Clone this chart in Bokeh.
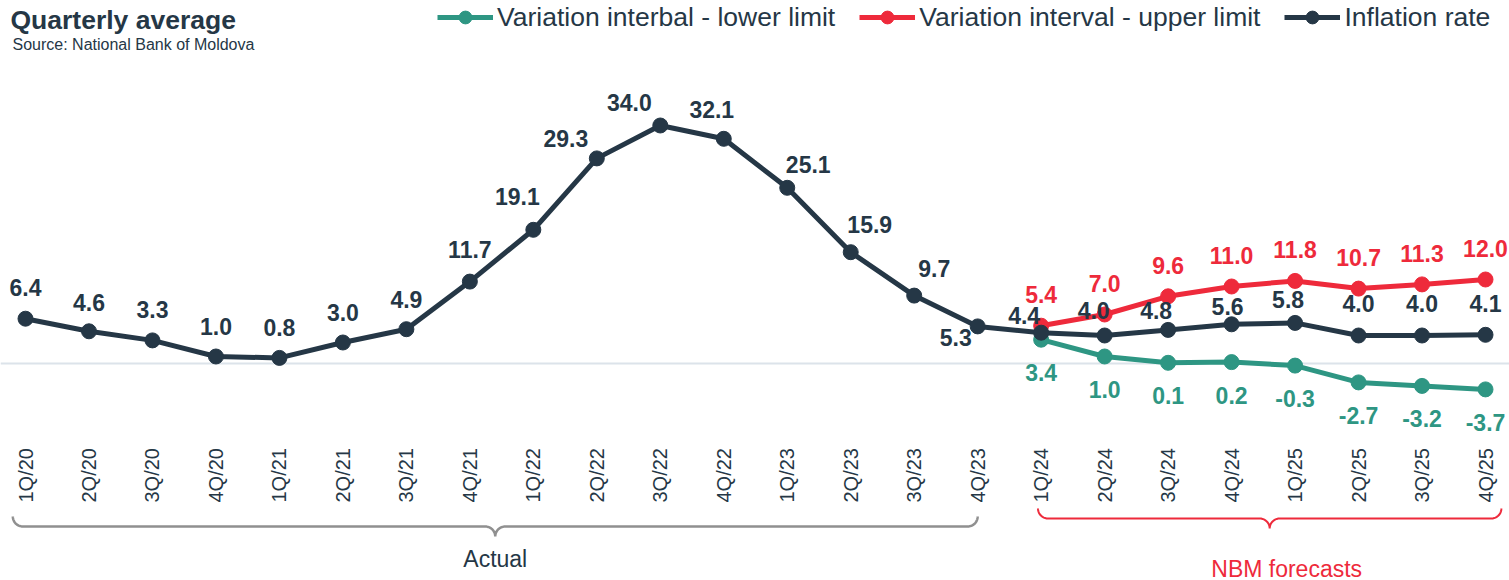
import numpy as np
from bokeh.plotting import figure
from bokeh.models import ColumnDataSource, Range1d, Span, Label, Legend, LegendItem
from bokeh.core.properties import value
from bokeh.embed import file_html
from bokeh.resources import INLINE

# ---------------- data ----------------
quarters = ["1Q/20", "2Q/20", "3Q/20", "4Q/20", "1Q/21", "2Q/21", "3Q/21", "4Q/21",
            "1Q/22", "2Q/22", "3Q/22", "4Q/22", "1Q/23", "2Q/23", "3Q/23", "4Q/23",
            "1Q/24", "2Q/24", "3Q/24", "4Q/24", "1Q/25", "2Q/25", "3Q/25", "4Q/25"]
inflation = [6.4, 4.6, 3.3, 1.0, 0.8, 3.0, 4.9, 11.7, 19.1, 29.3, 34.0, 32.1,
             25.1, 15.9, 9.7, 5.3, 4.4, 4.0, 4.8, 5.6, 5.8, 4.0, 4.0, 4.1]
forecast_quarters = ["1Q/24", "2Q/24", "3Q/24", "4Q/24", "1Q/25", "2Q/25", "3Q/25", "4Q/25"]
upper_limit = [5.4, 7.0, 9.6, 11.0, 11.8, 10.7, 11.3, 12.0]
lower_limit = [3.4, 1.0, 0.1, 0.2, -0.3, -2.7, -3.2, -3.7]

# ---------------- style ----------------
DARK = "#253746"
RED = "#EE2A3B"
GREEN = "#2E9683"
GRAY = "#909090"
FONT_NAME = "Liberation Sans"
FONT = value(FONT_NAME)

# label offsets in screen pixels (dx right, dy down)
infl_dx = [0, 0, 0, 0, 0, 0, 0, 0, -16, -31, -31, -12, 21, 19, 20, -22, -17, -11, -12, -4, -7, 0, 0, 0]
infl_dy = [-31, -29, -31, -30, -30, -30, -30, -32, -33, -20, -23, -29, -23, -28, -27, 11, -17, -25, -19, -18, -23, -32, -32, -31]
upper_dy = -31
lower_dy = 33

W, H = 1509, 580
X0, X1 = -0.394, 23.378
Y0, Y1 = -31.0, 51.857


def y_of_px(py):
    return Y1 - py * (Y1 - Y0) / H


def x_of_px(px):
    return X0 + px * (X1 - X0) / W


def px_of_x(x):
    return (x - X0) * W / (X1 - X0)


p = figure(width=W, height=H, output_backend="svg", toolbar_location=None,
           x_range=Range1d(X0, X1), y_range=Range1d(Y0, Y1),
           x_axis_location=None, y_axis_location=None,
           min_border=0, min_border_left=0, min_border_right=0,
           min_border_top=0, min_border_bottom=0,
           outline_line_color=None, background_fill_color="white",
           border_fill_color="white", margin=(0, 0, 0, 0))
p.xgrid.visible = False
p.ygrid.visible = False

# zero baseline
p.add_layout(Span(location=0, dimension="width", line_color="#DCE3EA",
                  line_width=2, level="underlay"))

idx = list(range(len(quarters)))
fidx = [quarters.index(q) for q in forecast_quarters]

src_inf = ColumnDataSource(dict(x=idx, y=inflation))
src_up = ColumnDataSource(dict(x=fidx, y=upper_limit))
src_lo = ColumnDataSource(dict(x=fidx, y=lower_limit))

gl = p.line("x", "y", source=src_lo, line_color=GREEN, line_width=5)
gs = p.scatter("x", "y", source=src_lo, size=15, fill_color=GREEN, line_color=GREEN)
rl = p.line("x", "y", source=src_up, line_color=RED, line_width=5)
rs = p.scatter("x", "y", source=src_up, size=15, fill_color=RED, line_color=RED)
dl = p.line("x", "y", source=src_inf, line_color=DARK, line_width=5)
ds = p.scatter("x", "y", source=src_inf, size=15, fill_color=DARK, line_color=DARK)

# data labels
lab_common = dict(text_font=FONT, text_font_style="bold", text_font_size="23px",
                  text_align="center", text_baseline="middle")
p.text(x="x", y="y", text="t", x_offset="dx", y_offset="dy",
       source=ColumnDataSource(dict(x=idx, y=inflation,
                                    t=[f"{v:.1f}" for v in inflation],
                                    dx=infl_dx, dy=infl_dy)),
       text_color=DARK, **lab_common)
p.text(x="x", y="y", text="t", y_offset=upper_dy,
       source=ColumnDataSource(dict(x=fidx, y=upper_limit,
                                    t=[f"{v:.1f}" for v in upper_limit])),
       text_color=RED, **lab_common)
p.text(x="x", y="y", text="t", y_offset=lower_dy,
       source=ColumnDataSource(dict(x=fidx, y=lower_limit,
                                    t=[f"{v:.1f}" for v in lower_limit])),
       text_color=GREEN, **lab_common)

# category labels (rotated)
p.text(x=idx, y=[y_of_px(502)] * len(idx), text=quarters, angle=np.pi / 2,
       text_font=FONT, text_font_size="20px", text_color=DARK,
       text_align="left", text_baseline="middle")


# braces
def brace(i_left, i_right, ytop, r):
    xl, xr = px_of_x(i_left), px_of_x(i_right)
    xc = (xl + xr) / 2
    ymid = ytop + r
    xs, ys = [], []
    a = np.linspace(np.pi, np.pi / 2, 12)
    xs += list(xl + r + r * np.cos(a)); ys += list(ytop + r * np.sin(a))
    a = np.linspace(-np.pi / 2, 0, 12)
    xs += list(xc - r + r * np.cos(a)); ys += list(ymid + r + r * np.sin(a))
    a = np.linspace(np.pi, 1.5 * np.pi, 12)
    xs += list(xc + r + r * np.cos(a)); ys += list(ymid + r + r * np.sin(a))
    a = np.linspace(np.pi / 2, 0, 12)
    xs += list(xr - r + r * np.cos(a)); ys += list(ytop + r * np.sin(a))
    return [x_of_px(v) for v in xs], [y_of_px(v) for v in ys], x_of_px(xc)


bx, by, bc = brace(-0.2, 15.0, 516, 10)
p.line(bx, by, line_color=GRAY, line_width=2.5)
p.add_layout(Label(x=bc, y=H - 558, y_units="screen", text="Actual",
                   text_font=FONT_NAME, text_font_size="23px", text_color=DARK,
                   text_align="center", text_baseline="middle"))

rx, ry, rc = brace(15.95, 23.25, 508, 10)
p.line(rx, ry, line_color=RED, line_width=2)
p.add_layout(Label(x=rc, x_offset=17, y=H - 568, y_units="screen", text="NBM forecasts",
                   text_font=FONT_NAME, text_font_size="23px", text_color=RED,
                   text_align="center", text_baseline="middle"))

# title / source
p.add_layout(Label(x=10, y=H - 19, x_units="screen", y_units="screen",
                   text="Quarterly average", text_font=FONT_NAME, text_font_size="26.5px",
                   text_font_style="bold", text_color=DARK, text_baseline="alphabetic"))
p.add_layout(Label(x=12, y=H - 44, x_units="screen", y_units="screen",
                   text="Source: National Bank of Moldova", text_font=FONT_NAME,
                   text_font_size="16px", text_color=DARK, text_baseline="alphabetic"))

legend = Legend(items=[
    LegendItem(label="Variation interbal - lower limit", renderers=[gl, gs]),
    LegendItem(label="Variation interval - upper limit", renderers=[rl, rs]),
    LegendItem(label="Inflation rate", renderers=[dl, ds]),
], location=(437, H - 33), orientation="horizontal", padding=0, margin=0,
    spacing=24, glyph_width=56, glyph_height=32, label_standoff=4,
    label_text_font=FONT_NAME, label_text_font_size="26.5px", label_text_color=DARK,
    background_fill_alpha=0, border_line_alpha=0)
p.add_layout(legend)

open("out.html", "w").write(file_html(p, INLINE))
